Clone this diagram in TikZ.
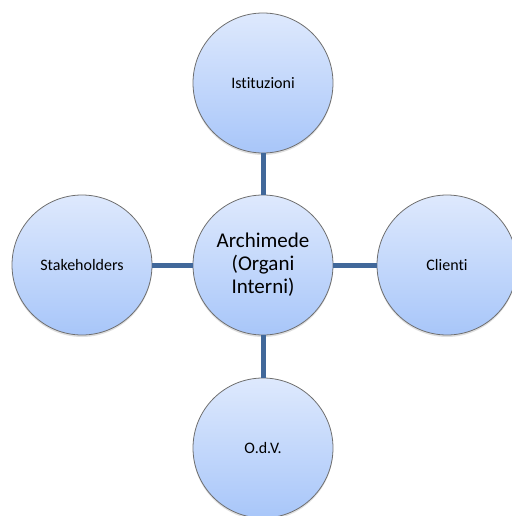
\documentclass[tikz,border=0pt]{standalone}
\usepackage{fontspec}
\setmainfont[Ligatures=NoCommon]{Carlito}
\usetikzlibrary{shadows}
\definecolor{bubbletop}{HTML}{DEE9FD}
\definecolor{bubblebot}{HTML}{A8C6F9}
\definecolor{bubbleline}{HTML}{6E6E6E}
\definecolor{linkblue}{HTML}{41689A}
\begin{document}
\begin{tikzpicture}[x=1pt,y=-1pt]
 \tikzstyle{every node}=[draw=bubbleline,line width=0.8pt,shape=circle,minimum size=140pt,inner sep=0pt,
   top color=bubbletop,bottom color=bubblebot,font=\fontsize{16}{19}\selectfont,
   drop shadow={shadow xshift=0pt,shadow yshift=-2pt,opacity=0.25}];
    \tikzstyle{link}=[draw=linkblue,line width=5pt];
    \useasboundingbox (0,0) rectangle (511,516);
    \node at (263, 83) (ist) {Istituzioni};
    \node at (263, 265) (arch) [align=center,font=\fontsize{21}{23}\selectfont] {Archimede\\(Organi\\Interni)};
    \node at (82, 265) (stk) {Stakeholders};
    \node at (447, 265) (cli) {Clienti};
    \node at (263, 448) (odv) {O.d.V.};
        \draw[link] (arch) -- (ist);
    \draw[link] (arch) -- (stk);
    \draw[link] (arch) -- (cli);
    \draw[link] (arch) -- (odv);
\end{tikzpicture}
\end{document}
